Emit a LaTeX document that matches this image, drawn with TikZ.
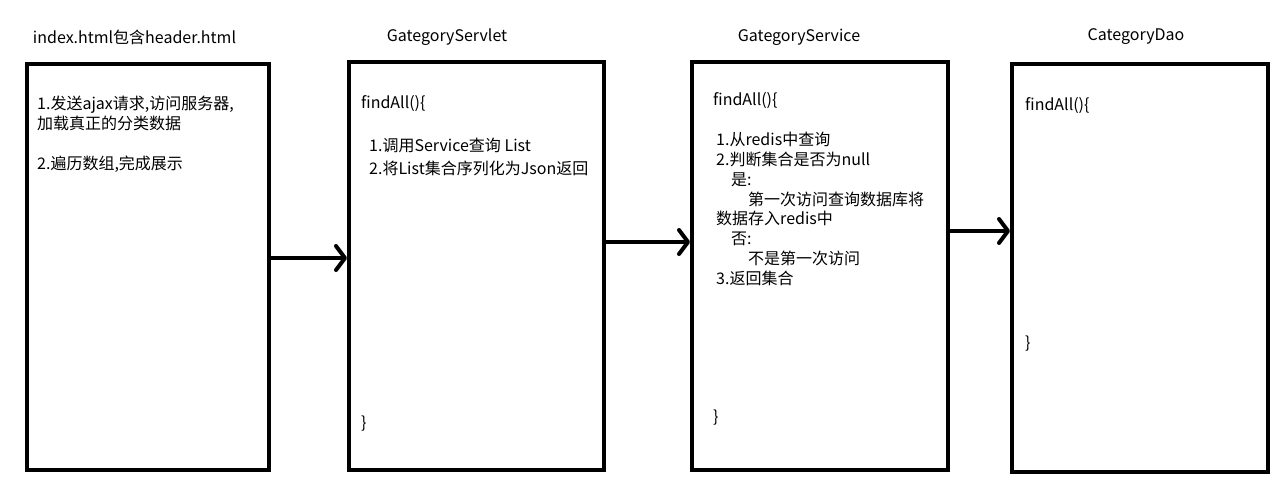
\documentclass[tikz,border=0pt]{standalone}
\usepackage{fontspec}
\setmainfont{Noto Sans CJK SC}
\usetikzlibrary{arrows.meta}

\begin{document}
\begin{tikzpicture}[x=1pt,y=-1pt,
  box/.style={draw,line width=4pt,inner sep=0pt},
  title/.style={inner sep=0pt,font=\fontsize{16}{20}\selectfont},
  code/.style={inner sep=0pt,anchor=west,font=\fontsize{16}{20}\selectfont},
  block/.style={inner sep=0pt,anchor=north west,align=left,font=\fontsize{16}{19.8}\selectfont},
  flow/.style={line width=4pt,-{Straight Barb[length=9pt,width=24pt,round]}}]
  \useasboundingbox (0,0) rectangle (1279,488);
  % layer titles
  \node[title] (tpage) at (134.5,37) {index.html包含header.html};
  \node[title] (tservlet) at (447,37) {GategoryServlet};
  \node[title] (tservice) at (799,37) {GategoryService};
  \node[title] (tdao) at (1136,37) {CategoryDao};
  % the four frames
  \node[box,minimum width=242pt,minimum height=406pt] (page) at (148,267) {};
  \node[box,minimum width=255pt,minimum height=408pt] (servlet) at (476.5,266) {};
  \node[box,minimum width=256pt,minimum height=408pt] (service) at (820,266) {};
  \node[box,minimum width=256pt,minimum height=408pt] (dao) at (1140,268) {};
  % page
  \node[block] (pagenote) at (37,96) {1.发送ajax请求,访问服务器,\\加载真正的分类数据\\[20pt]2.遍历数组,完成展示};
  % servlet
  \node[code] (servletopen) at (361,104) {findAll()\{};
  \node[block] (servletnote) at (369,138) {1.调用Service查询 List\\[3pt]2.将List集合序列化为Json返回};
  \node[code] (servletclose) at (361,424) {\}};
  % service
  \node[code] (serviceopen) at (713,101) {findAll()\{};
  \node[block] (servicenote) at (716,132) {1.从redis中查询\\2.判断集合是否为null\\\hspace*{15pt}是:\\\hspace*{32pt}第一次访问查询数据库将\\数据存入redis中\\\hspace*{15pt}否:\\\hspace*{32pt}不是第一次访问\\3.返回集合};
  \node[code] (serviceclose) at (713,418) {\}};
  % dao
  \node[code] (daoopen) at (1025,106) {findAll()\{};
  \node[code] (daoclose) at (1025,344) {\}};
  % calls
  \coordinate (y1) at (0,258);
  \coordinate (y2) at (0,242);
  \coordinate (y3) at (0,231);
  \path (page.east |- y1) ++(-4,0) coordinate (a1);
  \draw[flow] (a1) -- (servlet.west |- y1);
  \draw[flow] (servlet.east |- y2) -- (service.west |- y2);
  \draw[flow] (service.east |- y3) -- (dao.west |- y3);
\end{tikzpicture}
\end{document}
